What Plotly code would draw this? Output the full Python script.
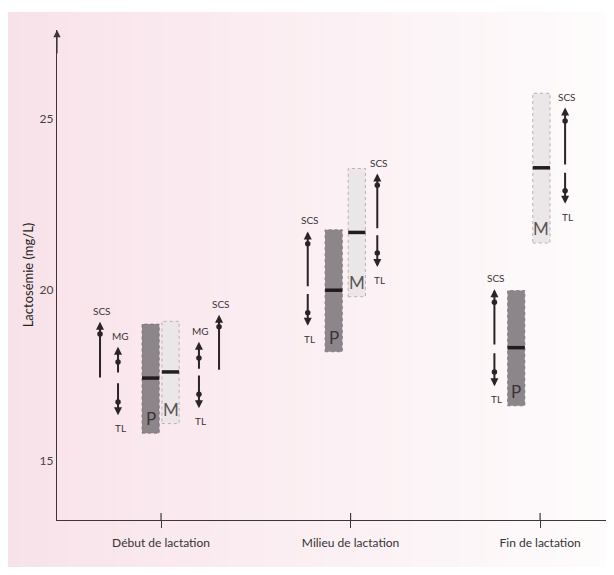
import plotly.graph_objects as go

# ---------------- data ----------------
categories = ["Début de lactation", "Milieu de lactation", "Fin de lactation"]
cat_pos = [0, 1, 2]

# Primipares (P) boxes
P_low = [15.81, 18.19, 16.61]
P_high = [19.00, 21.76, 19.98]
P_med = [17.42, 19.99, 18.31]
# Multipares (M) boxes
M_low = [16.09, 19.80, 21.37]
M_high = [19.08, 23.55, 25.75]
M_med = [17.60, 21.68, 23.57]

# arrows: category index, label, base value, tip value, dot value
arrow_cat = [0, 0, 0, 0, 0, 0, 1, 1, 1, 1, 2, 2, 2, 2]
arrow_label = ["SCS", "MG", "TL", "MG", "TL", "SCS", "SCS", "TL", "SCS", "TL", "SCS", "TL", "SCS", "TL"]
arrow_base = [17.39, 17.54, 17.31, 17.65, 17.54, 17.62, 20.06, 19.92, 21.76, 21.64, 18.36, 18.19, 23.62, 23.47]
arrow_tip = [19.07, 18.34, 16.33, 18.48, 16.54, 19.27, 21.71, 18.95, 23.40, 20.67, 20.02, 17.18, 25.33, 22.52]
arrow_dot = [18.71, 17.89, 16.72, 18.01, 16.95, 18.92, 21.35, 19.33, 23.06, 21.08, 19.64, 17.60, 24.94, 22.90]

y_ticks = [15, 20, 25]
y_title = "Lactosémie (mg/L)"

# ---------------- layout helpers (positions / styles) ----------------
P_off = [-0.055, -0.089, -0.126]
M_off = [0.050, 0.033, 0.007]
box_w = 0.091
arrow_off = [-0.322, -0.227, -0.227, 0.200, 0.200, 0.306, -0.226, -0.226, 0.141, 0.141, -0.241, -0.241, 0.132, 0.132]

# the page body adds an 8px margin, so the figure is shrunk and margins shifted
PAGE = 8
W, H = 614 - PAGE, 575 - 2 * PAGE
ML, MR, MT = 57 - PAGE, 0, 30 - PAGE
PH = 490
MB = H - MT - PH
XR = [-0.549, 2.39]
YR = [13.27, 27.6]

FONT = "Lato, Open Sans, sans-serif"
DARK = "#2b2326"
AX = "#3d3538"

fig = go.Figure()

# background gradient panel (pink -> white)
pw = W - ML - MR
left_px, right_px, top_px, bot_px = 7 - PAGE, 614 - PAGE, 12 - PAGE, 574 - PAGE
n = 90
c0 = (248, 226, 233)
c1 = (254, 252, 252)
shapes = []
for i in range(n):
    t = i / (n - 1)
    col = tuple(round(c0[k] + (c1[k] - c0[k]) * t) for k in range(3))
    xa = left_px + (right_px - left_px) * i / n
    xb = left_px + (right_px - left_px) * (i + 1) / n + 0.6
    shapes.append(dict(type="rect", xref="paper", yref="paper",
                       x0=(xa - ML) / pw, x1=(xb - ML) / pw,
                       y0=(H - MB - bot_px) / PH, y1=(H - MB - top_px) / PH,
                       fillcolor="rgb(%d,%d,%d)" % col, line=dict(width=0), layer="below"))

# inner halves of x ticks (ticks cross the axis)
for c in cat_pos:
    shapes.append(dict(type="line", xref="x", yref="paper", x0=c, x1=c,
                       ysizemode="pixel", yanchor=0, y0=0, y1=7,
                       line=dict(color=AX, width=1.2)))

# boxes
fig.add_trace(go.Bar(x=[c + o for c, o in zip(cat_pos, P_off)],
                     y=[h - l for h, l in zip(P_high, P_low)], base=P_low, width=box_w,
                     marker=dict(color="#8c868a", line=dict(width=0)),
                     hoverinfo="skip", showlegend=False))
fig.add_trace(go.Bar(x=[c + o for c, o in zip(cat_pos, M_off)],
                     y=[h - l for h, l in zip(M_high, M_low)], base=M_low, width=box_w,
                     marker=dict(color="#ebe7e8", line=dict(width=0)),
                     hoverinfo="skip", showlegend=False))


# dotted outlines of the boxes
def outline(offs, lows, highs):
    xs, ys = [], []
    for c, o, l, h in zip(cat_pos, offs, lows, highs):
        x0, x1 = c + o - box_w / 2, c + o + box_w / 2
        xs += [x0, x1, x1, x0, x0, None]
        ys += [l, l, h, h, l, None]
    return xs, ys


ox, oy = outline(P_off, P_low, P_high)
fig.add_trace(go.Scatter(x=ox, y=oy, mode="lines", line=dict(color="#79727a", width=0.8, dash="dot"),
                         hoverinfo="skip", showlegend=False))
ox, oy = outline(M_off, M_low, M_high)
fig.add_trace(go.Scatter(x=ox, y=oy, mode="lines", line=dict(color="#a8a2a5", width=0.8, dash="dot"),
                         hoverinfo="skip", showlegend=False))

# medians
mx, my = [], []
for c, o, m in zip(cat_pos, P_off, P_med):
    mx += [c + o - box_w / 2, c + o + box_w / 2, None]
    my += [m, m, None]
for c, o, m in zip(cat_pos, M_off, M_med):
    mx += [c + o - box_w / 2, c + o + box_w / 2, None]
    my += [m, m, None]
fig.add_trace(go.Scatter(x=mx, y=my, mode="lines", line=dict(color="#231c1f", width=3.5),
                         hoverinfo="skip", showlegend=False))

annotations = []
# P / M labels
for c, o, l in zip(cat_pos, P_off, P_low):
    annotations.append(dict(x=c + o, y=l, xref="x", yref="y", text="P", showarrow=False,
                            yanchor="bottom", yshift=2, font=dict(family=FONT, size=17, color="#3a3437")))
for c, o, l in zip(cat_pos, M_off, M_low):
    annotations.append(dict(x=c + o, y=l, xref="x", yref="y", text="M", showarrow=False,
                            yanchor="bottom", yshift=2, font=dict(family=FONT, size=17, color="#5a5457")))

# arrows, dots and their labels
dx, dy = [], []
for c, o, lab, b, t, d in zip(arrow_cat, arrow_off, arrow_label, arrow_base, arrow_tip, arrow_dot):
    x = c + o
    annotations.append(dict(x=x, y=t, ax=x, ay=b, xref="x", yref="y", axref="x", ayref="y",
                            text="", showarrow=True, arrowhead=2, arrowsize=0.8, arrowwidth=2,
                            arrowcolor=DARK, standoff=0, startstandoff=0))
    dx.append(x)
    dy.append(d)
    up = t > b
    annotations.append(dict(x=x, y=t, xref="x", yref="y", text=lab, showarrow=False,
                            xshift=2, yshift=11 if up else -13,
                            font=dict(family=FONT, size=10, color="#3a3336")))
fig.add_trace(go.Scatter(x=dx, y=dy, mode="markers", marker=dict(color=DARK, size=5.5),
                         hoverinfo="skip", showlegend=False))

# y-axis arrowhead
annotations.append(dict(x=0, y=1, xref="paper", yref="paper", ax=0, ay=25, axref="pixel", ayref="pixel",
                        text="", showarrow=True, arrowhead=2, arrowsize=1.2, arrowwidth=1.2,
                        arrowcolor=AX, standoff=0))

fig.update_layout(
    width=W, height=H,
    margin=dict(l=ML, r=MR, t=MT, b=MB, autoexpand=False),
    paper_bgcolor="white", plot_bgcolor="rgba(0,0,0,0)",
    barmode="overlay",
    shapes=shapes, annotations=annotations,
    font=dict(family=FONT),
    xaxis=dict(range=XR, tickvals=cat_pos, ticktext=categories, showgrid=False, zeroline=False,
               showline=True, linecolor=AX, linewidth=1.2, ticks="outside", ticklen=7,
               tickcolor=AX, tickwidth=1.2, ticklabelstandoff=4,
               tickfont=dict(family=FONT, size=12, color="#333")),
    yaxis=dict(range=YR, tickvals=y_ticks, showgrid=False, zeroline=False,
               showline=True, linecolor=AX, linewidth=1.2, ticks="",
               tickfont=dict(family=FONT, size=12, color="#444"),
               title=dict(text=y_title, standoff=3, font=dict(family=FONT, size=13, color="#222"))),
)

fig.write_html("out.html")
